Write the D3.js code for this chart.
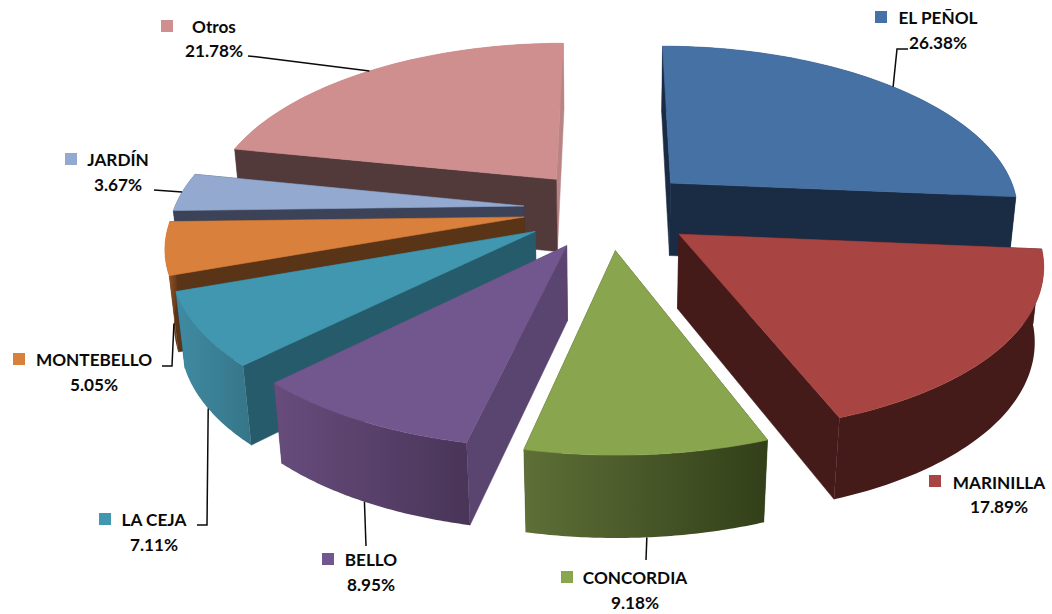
<!DOCTYPE html>
<html><head><meta charset="utf-8">
<script src="https://cdn.jsdelivr.net/npm/d3@7/dist/d3.min.js"></script>
<style>html,body{margin:0;padding:0;background:#fff}svg{display:block}text{font-family:Lato,sans-serif;font-weight:700;fill:#0a0a0a;text-anchor:middle}</style>
</head><body><svg id="c" width="1052" height="614"></svg>
<script>
const categories=["EL PEÑOL","MARINILLA","CONCORDIA","BELLO","LA CEJA","MONTEBELLO","JARDÍN","Otros"];
const values=[26.38,17.89,9.18,8.95,7.11,5.05,3.67,21.78];
const topColors=["#4671A5","#A84442","#89A54E","#71578D","#4197AF","#D9803D","#93A9CF","#CF8F8E"];
const wallStartColors=["#1A2C44","#451B1A","#3A4720","#5A4470","#265B6B","#5A3416","#3C4358","#52393A"];
const wallEndColors=["#1A2C44","#451B1A","#3A4720","#5A4470","#265B6B","#5A3416","#3C4358","#B98484"];
const rimStart=["#1A2C44","#451B1A","#5E6F37","#674C7C","#3F8BA3","#A85F28","#3C4358","#B98484"];
const rimEnd=["#1A2C44","#451B1A","#323F19","#493558","#367588","#5A3416","#3C4358","#B98484"];
// label layout: [square x, square y, text centre x, name baseline, percent baseline]
const labelLayout=[[875,11,938,24,49],[929,475,999,489,513],[561,571,635,584,609],[322,553,371,566,591],[99,513,154,526,551],[13,353,94,366,391],[65,153,118,166,191],[161,20,214,33,57]];
// leader: elbow points (from label side), and whether it attaches to the lower rim
const leaderElbows=[[[908,49],[897,49]],null,[[646,560]],[[366,546]],[[197,525],[207,525]],[[162,366],[172,366]],[[154,190]],[[248,56],[258,57]]];
const leaderLower=[0,0,1,1,1,1,0,0];

const cx=609,cy=209.5,Rx=350,Ry=163,k=0.14,kx=0.155,m=0.02,D=75,explode=0.245;
function project(X,Y,Z){const p=1/(1-k*Y+m*Z),q=1/(1-kx*Y+m*Z);return [cx+Rx*X*q,cy+Ry*Y*p+D*Z*p];}
const svg=d3.select("#c"),defs=svg.append("defs");
const arcs=d3.pie().sort(null).startAngle(0).endAngle(2*Math.PI)(values).map((a,i)=>{
  const mid=(a.startAngle+a.endAngle)/2;
  return {i,a0:a.startAngle,a1:a.endAngle,mid,ox:explode*Math.sin(mid),oy:-explode*Math.cos(mid)};
});
const pt=(s,ang,Z)=>project(s.ox+Math.sin(ang),s.oy-Math.cos(ang),Z);
const apex=(s,Z)=>project(s.ox,s.oy,Z);
const line=d3.line();
const g=svg.append("g");
arcs.forEach(s=>{
  const lg=defs.append("linearGradient").attr("id","rim"+s.i);
  lg.append("stop").attr("offset",0).attr("stop-color",rimStart[s.i]);
  lg.append("stop").attr("offset",1).attr("stop-color",rimEnd[s.i]);
});
arcs.slice().sort((a,b)=>apex(a,0)[1]-apex(b,0)[1]).forEach(s=>{
  const angs=d3.range(0,61).map(t=>s.a0+(s.a1-s.a0)*t/60);
  const topArc=angs.map(a=>pt(s,a,0)), botArc=angs.map(a=>pt(s,a,1));
  const G=g.append("g");
  const drawRim=()=>G.append("path").attr("d",line(topArc.concat(botArc.slice().reverse()))+"Z").attr("fill",`url(#rim${s.i})`);
  if(s.oy<0) drawRim();
  G.append("path").attr("d",line([apex(s,0),pt(s,s.a1,0),pt(s,s.a1,1),apex(s,1)])+"Z").attr("fill",wallEndColors[s.i]).attr("stroke",wallEndColors[s.i]).attr("stroke-width",0.5);
  G.append("path").attr("d",line([apex(s,0),pt(s,s.a0,0),pt(s,s.a0,1),apex(s,1)])+"Z").attr("fill",wallStartColors[s.i]).attr("stroke",wallStartColors[s.i]).attr("stroke-width",0.5);
  if(s.oy>=0) drawRim();
  G.append("path").attr("d",line([apex(s,0)].concat(topArc))+"Z").attr("fill",topColors[s.i]).attr("stroke",topColors[s.i]).attr("stroke-width",0.6);
});
// leaders
arcs.forEach(s=>{
  const e=leaderElbows[s.i]; if(!e) return;
  svg.append("path").attr("d",line(e.concat([pt(s,s.mid,leaderLower[s.i])]))).attr("fill","none").attr("stroke","#0a0a0a").attr("stroke-width",1.5);
});
// labels
categories.forEach((c,i)=>{
  const L=labelLayout[i];
  svg.append("rect").attr("x",L[0]).attr("y",L[1]).attr("width",12).attr("height",12).attr("fill",topColors[i]);
  svg.append("text").attr("x",L[2]).attr("y",L[3]).attr("font-size",17.2).text(c);
  svg.append("text").attr("x",L[2]).attr("y",L[4]).attr("font-size",17.2).text(values[i].toFixed(2)+"%");
});
</script></body></html>
